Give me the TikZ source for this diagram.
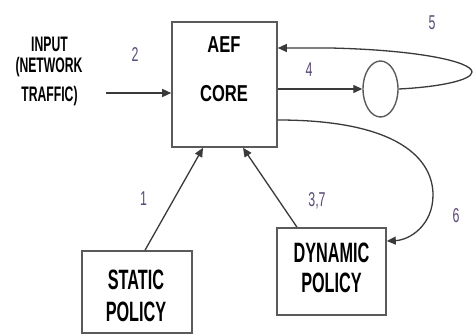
\documentclass[tikz,border=0pt]{standalone}
\usepackage{fontspec}
\setmainfont{Liberation Sans}
\newfontfamily\condA[FakeStretch=0.58]{Liberation Sans}
\newfontfamily\condB[FakeStretch=0.72]{Liberation Sans}
\newfontfamily\condN[FakeStretch=0.62]{Liberation Sans}
\usetikzlibrary{arrows.meta,shapes.geometric}
\definecolor{boxgray}{HTML}{5A5A5A}
\definecolor{linegray}{HTML}{3A3A3A}
\definecolor{numcol}{HTML}{5A4A78}
\tikzset{
  boxnode/.style={draw=boxgray, line width=1.6pt, rectangle, inner sep=0pt},
  txtbig/.style={font=\condA\bfseries\fontsize{28}{30}\selectfont, anchor=base, inner sep=0pt},
  txtcore/.style={font=\condB\bfseries\fontsize{23}{25}\selectfont, anchor=base, inner sep=0pt},
  txtin/.style={font=\condA\bfseries\fontsize{21}{23}\selectfont, anchor=base, inner sep=0pt},
  num/.style={font=\condN\fontsize{20}{22}\selectfont, text=numcol, anchor=base, inner sep=0pt},
  conn/.style={draw=linegray, line width=1.3pt, -{Triangle[length=9pt,width=8pt]}},
  plain/.style={draw=linegray, line width=1.3pt}
}
\begin{document}
\begin{tikzpicture}[x=1pt,y=-1pt]
\useasboundingbox (0,0) rectangle (473,336);
\fill[white] (0,0) rectangle (473,336);

% boxes
\node[boxnode, minimum width=105pt, minimum height=125pt] (core) at (224.5,84.5) {};
\node[boxnode, minimum width=110pt, minimum height=82pt] (static) at (137,292) {};
\node[boxnode, minimum width=109pt, minimum height=87pt] (dynamic) at (331.5,271.5) {};
\node[draw=boxgray, line width=1.4pt, ellipse, inner sep=0pt, minimum width=35pt, minimum height=56pt] (circ) at (380.5,89) {};

% box texts
\node[txtcore] (t-aef) at (224,53) {AEF};
\node[txtcore] (t-core) at (224,102) {CORE};
\node[txtbig] (t-static) at (136,289) {STATIC};
\node[txtbig] (t-spol) at (136,321) {POLICY};
\node[txtbig] (t-dyn) at (331.5,262) {DYNAMIC};
\node[txtbig] (t-dpol) at (331.5,292) {POLICY};

% input text
\node[txtin] (t-in1) at (49.5,52) {INPUT};
\node[txtin] (t-in2) at (49,73) {(NETWORK};
\node[txtin] (t-in3) at (49.5,102) {TRAFFIC)};

% numbers
\node[num] (n2) at (135,62) {2};
\node[num] (n4) at (309,77) {4};
\node[num] (n5) at (432,30) {5};
\node[num] (n1) at (143.5,206) {1};
\node[num] (n37) at (317,207) {3,7};
\node[num] (n6) at (456,223) {6};

% connectors
\coordinate (in2) at (106,93);
\draw[conn] (in2) -- (core.west |- in2);
\draw[conn] (core.east |- circ.west) -- (circ.west);
\coordinate (tip5) at (472,72);
\coordinate (c5) at (330,48);
\draw[conn] (circ.east) .. controls (440,87) and (472,80) .. (tip5)
  .. controls (472,62) and (420,50) .. (c5) -- (core.east |- c5);
\coordinate (s6) at (277,120);
\coordinate (m6) at (433,195);
\coordinate (e6) at (386,241);
\draw[conn] (core.east |- s6) .. controls (400,120) and (433,160) .. (m6)
  .. controls (433,225) and (410,240) .. (dynamic.east |- e6);
\draw[conn] ([xshift=8pt]static.north) -- ([xshift=-21.5pt]core.south);
\draw[conn] ([xshift=-34.5pt]dynamic.north) -- ([xshift=18.5pt]core.south);
\end{tikzpicture}
\end{document}
